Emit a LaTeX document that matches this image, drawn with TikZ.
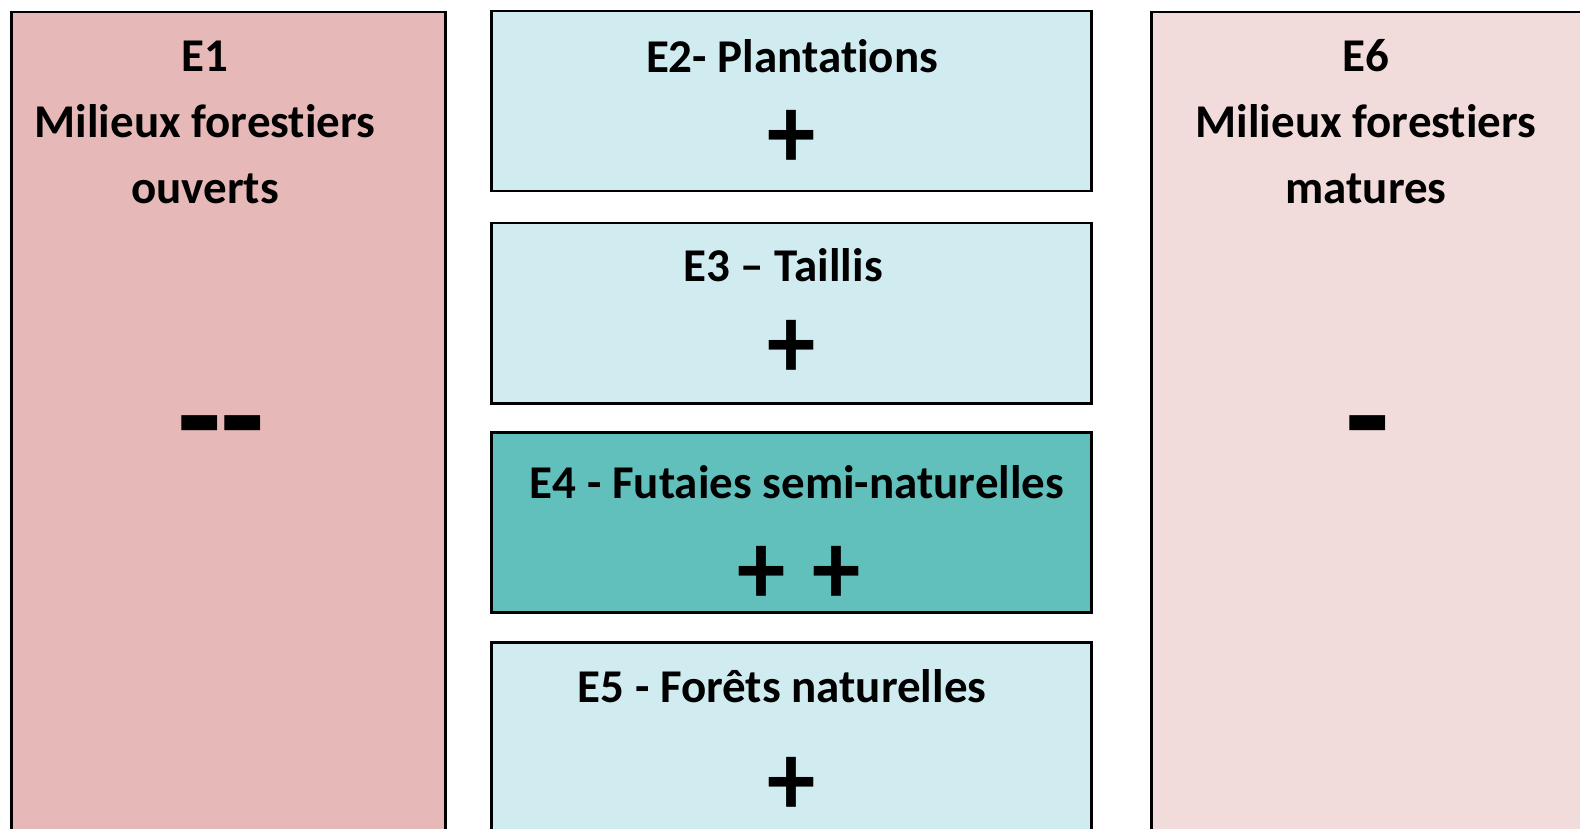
\documentclass[tikz,border=0pt]{standalone}
\usepackage{fontspec}
\setmainfont{Carlito}[Ligatures={TeX,NoCommon}]
\definecolor{pinkA}{HTML}{E6B8B7}
\definecolor{pinkB}{HTML}{F2DCDB}
\definecolor{lblue}{HTML}{D0ECF0}
\definecolor{teal4}{HTML}{61C0BB}
\newcommand{\pls}{\scalebox{0.92}[1]{+}}
\begin{document}
\begin{tikzpicture}[x=1pt,y=-1pt,
  box/.style={draw=black, line width=2.5pt, rectangle, inner sep=0, anchor=north west},
  title/.style={font=\bfseries\fontsize{47}{66}\selectfont, align=center, inner sep=0, anchor=base},
  plussign/.style={font=\bfseries\fontsize{105}{105}\selectfont, inner sep=0, anchor=center},
  minussign/.style={font=\bfseries\fontsize{145}{145}\selectfont, inner sep=0, anchor=center}]
\useasboundingbox (0,0) rectangle (1580,829);
\clip (0,0) rectangle (1580,829);
\node[box, fill=pinkA, minimum width=434pt, minimum height=839pt] (e1) at (10,11) {};
\node[box, fill=lblue, minimum width=600pt, minimum height=180pt] (e2) at (490,10) {};
\node[box, fill=lblue, minimum width=600pt, minimum height=180pt] (e3) at (490,222) {};
\node[box, fill=teal4, minimum width=600pt, minimum height=180pt] (e4) at (490,431) {};
\node[box, fill=lblue, minimum width=600pt, minimum height=220pt] (e5) at (490,641) {};
\node[box, fill=pinkB, minimum width=470pt, minimum height=839pt] (e6) at (1150,11) {};
\node[title] (t1) at (205,204) {E1\\Milieux forestiers\\ouverts};
\node[title] (t6) at (1366,204) {E6\\Milieux forestiers\\matures};
\node[title] (t2) at (792,73) {E2- Plantations};
\node[title] (t3) at (783,281) {E3 – Taillis};
\node[title] (t4) at (797,498) {E4 - Futaies semi-naturelles};
\node[title] (t5) at (782,702) {E5 - Forêts naturelles};
\node[plussign] (p2) at (792,139) {\pls};
\node[plussign] (p3) at (792,349) {\pls};
\node[plussign] (p4) at (799,575) {\pls\kern27pt\pls};
\node[plussign] (p5) at (792,786) {\pls};
\node[minussign] (m1) at (221,440.5) {-\kern-1.6pt-};
\node[minussign] (m6) at (1368,440.5) {-};
\end{tikzpicture}
\end{document}
